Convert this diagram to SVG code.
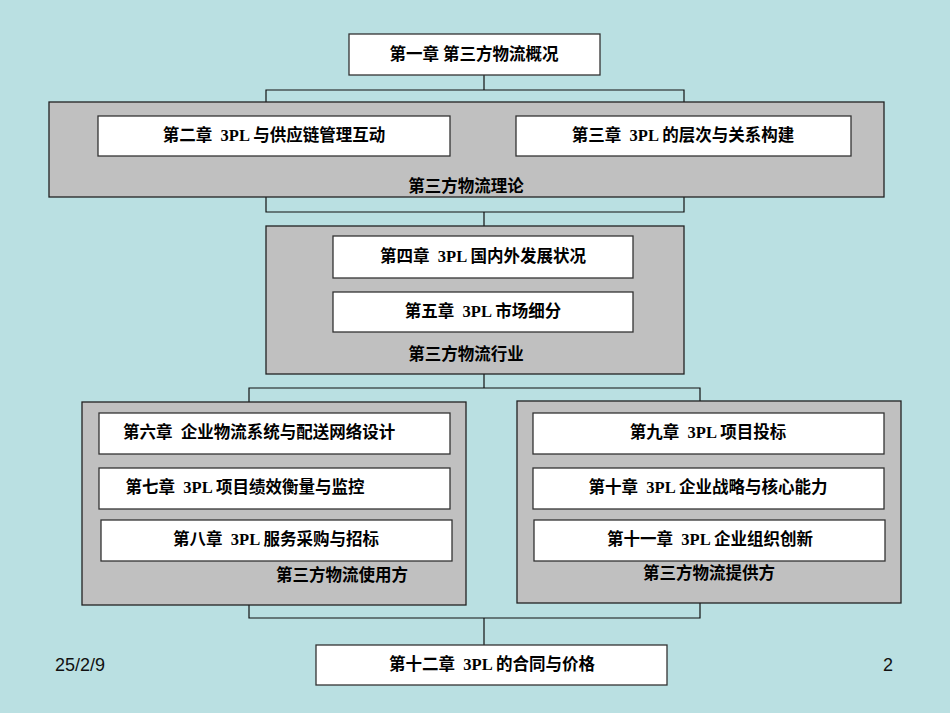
<svg xmlns="http://www.w3.org/2000/svg" width="950" height="713" viewBox="0 0 950 713">
<style>
.w{fill:#fff;stroke:#333;stroke-width:1.3}
.g{fill:#c0c0c0;stroke:#222;stroke-width:1.3}
.t{font-family:"Liberation Serif","Noto Sans CJK SC",serif;font-size:16.5px;font-weight:bold;fill:#000;text-anchor:middle;white-space:pre}
.l{fill:none;stroke:#111;stroke-width:1.2}
.f{font-family:"Liberation Sans",sans-serif;font-size:18px;fill:#111}
</style>
<rect width="950" height="713" fill="#bae0e2"/>
<g id="connectors">
<path class="l" d="M484 75V90M266 102V90H684V102"/>
<path class="l" d="M266 197V212H684V197M484 212V226"/>
<path class="l" d="M484 374V388M249 402V388H700V401"/>
<path class="l" d="M249 605V618H700V603M484 618V645"/>
</g>
<g id="n1"><rect class="w" x="349" y="34" width="251" height="41"/><text class="t" x="474" y="60" xml:space="preserve">第一章 第三方物流概况</text></g>
<g id="theory"><rect class="g" x="49" y="102" width="835" height="95"/><text class="t" x="466" y="192">第三方物流理论</text></g>
<g id="n2"><rect class="w" x="98" y="116" width="352" height="40"/><text class="t" x="274" y="141" xml:space="preserve">第二章  3PL 与供应链管理互动</text></g>
<g id="n3"><rect class="w" x="516" y="116" width="335" height="40"/><text class="t" x="683" y="141" xml:space="preserve">第三章  3PL 的层次与关系构建</text></g>
<g id="industry"><rect class="g" x="266" y="226" width="418" height="148"/><text class="t" x="466" y="360">第三方物流行业</text></g>
<g id="n4"><rect class="w" x="333" y="236" width="300" height="42"/><text class="t" x="483" y="262" xml:space="preserve">第四章  3PL 国内外发展状况</text></g>
<g id="n5"><rect class="w" x="333" y="292" width="300" height="40"/><text class="t" x="483" y="317" xml:space="preserve">第五章  3PL 市场细分</text></g>
<g id="user"><rect class="g" x="82" y="402" width="384" height="203"/><text class="t" x="342" y="581">第三方物流使用方</text></g>
<g id="n6"><rect class="w" x="99" y="413" width="351" height="41"/><text class="t" x="259" y="438" xml:space="preserve">第六章  企业物流系统与配送网络设计</text></g>
<g id="n7"><rect class="w" x="99" y="468" width="351" height="41"/><text class="t" x="245" y="493" xml:space="preserve">第七章  3PL 项目绩效衡量与监控</text></g>
<g id="n8"><rect class="w" x="101" y="520" width="351" height="41"/><text class="t" x="276" y="545" xml:space="preserve">第八章  3PL 服务采购与招标</text></g>
<g id="provider"><rect class="g" x="517" y="401" width="384" height="202"/><text class="t" x="709" y="579">第三方物流提供方</text></g>
<g id="n9"><rect class="w" x="533" y="413" width="351" height="41"/><text class="t" x="708" y="438" xml:space="preserve">第九章  3PL 项目投标</text></g>
<g id="n10"><rect class="w" x="533" y="468" width="351" height="41"/><text class="t" x="708" y="493" xml:space="preserve">第十章  3PL 企业战略与核心能力</text></g>
<g id="n11"><rect class="w" x="534" y="520" width="351" height="41"/><text class="t" x="710" y="545" xml:space="preserve">第十一章  3PL 企业组织创新</text></g>
<g id="n12"><rect class="w" x="316" y="645" width="351" height="40"/><text class="t" x="492" y="670" xml:space="preserve">第十二章  3PL 的合同与价格</text></g>
<text class="f" x="55" y="671">25/2/9</text>
<text class="f" x="883" y="671">2</text>
</svg>
